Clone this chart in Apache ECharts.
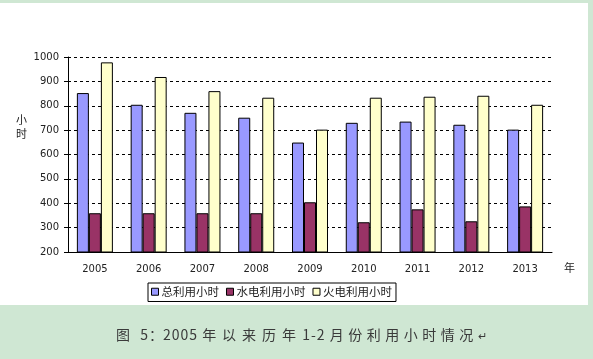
<!DOCTYPE html>
<html><head><meta charset="utf-8">
<script src="https://cdn.jsdelivr.net/npm/echarts@6/dist/echarts.min.js"></script>
<style>
html,body{margin:0;padding:0;background:#cfe7d3;}
#wrap{position:relative;width:593px;height:359px;}
#c{width:593px;height:359px;}
#cap{position:absolute;left:116px;top:325px;white-space:pre;font-family:"Noto Sans CJK SC";font-size:14px;color:#3a3a3a;line-height:18px;}
#cap .h{letter-spacing:6px;}
#cap .h2{letter-spacing:4.5px;}
#cap .a{letter-spacing:1px;}
</style>
</head><body><div id="wrap"><div id="c"></div>
<div id="cap"><span class="h">图</span><span class="a"> 5</span><span>：</span><span class="a">2005 </span><span class="h">年以来历年</span><span class="a">1-2 </span><span class="h2">月份利用小时情况</span><span style="font-size:11px">↵</span></div>
</div>
<script>
const years = ['2005','2006','2007','2008','2009','2010','2011','2012','2013'];
const totalHours = [852, 804, 771, 751, 649, 730, 735, 722, 702];
const hydroHours = [359, 359, 359, 359, 404, 322, 375, 326, 387];
const thermalHours = [978, 918, 860, 833, 702, 833, 837, 841, 804];
const seriesNames = ['总利用小时', '水电利用小时', '火电利用小时'];
const yTicks = {min: 200, max: 1000, interval: 100};

const chart = echarts.init(document.getElementById('c'));
const font = '"DejaVu Sans", "Noto Sans CJK SC", sans-serif';
const mk = (name, data, color) => ({
  name, type: 'bar', data, barWidth: 12, barGap: '0%',
  itemStyle: {color, borderColor: '#000', borderWidth: 1},
  animation: false
});
chart.setOption({
  animation: false,
  graphic: [
    {type: 'rect', shape: {x: 0, y: 3, width: 588, height: 302}, style: {fill: '#ffffff'}, z: -10, silent: true},
    {type: 'text', left: 16, top: 113, style: {text: '小\n时', font: '11px "Noto Sans CJK SC"', fill: '#222', lineHeight: 14}},
    {type: 'text', left: 564, top: 262, style: {text: '年', font: '11px "Noto Sans CJK SC"', fill: '#222'}}
  ],
  legend: {
    data: seriesNames, left: 148, top: 283, itemWidth: 7, itemHeight: 7, itemGap: 7,
    borderColor: '#000', borderWidth: 1, padding: [3, 4, 4, 3],
    icon: 'rect',
    itemStyle: {borderColor: '#000', borderWidth: 1},
    textStyle: {fontSize: 11.5, color: '#222', fontFamily: '"Noto Sans CJK SC"', padding: [0, 0, 0, -2]}
  },
  grid: {left: 68, right: 41, top: 57, bottom: 107},
  xAxis: {
    type: 'category', data: years,
    axisLine: {lineStyle: {color: '#000', width: 1}},
    axisTick: {inside: true, length: 4, lineStyle: {color: '#000'}},
    axisLabel: {fontSize: 10, color: '#222', margin: 12, fontFamily: font}
  },
  yAxis: {
    type: 'value', min: yTicks.min, max: yTicks.max, interval: yTicks.interval,
    axisLine: {show: true, lineStyle: {color: '#000'}},
    axisTick: {show: true, length: 4, lineStyle: {color: '#000'}},
    axisLabel: {fontSize: 10, color: '#222', margin: 9, fontFamily: font, formatter: v => String(v)},
    splitLine: {lineStyle: {color: '#000', type: [3, 3], width: 1}}
  },
  series: [
    mk(seriesNames[0], totalHours, '#9999ff'),
    mk(seriesNames[1], hydroHours, '#993366'),
    mk(seriesNames[2], thermalHours, '#ffffcc')
  ]
});
</script></body></html>
